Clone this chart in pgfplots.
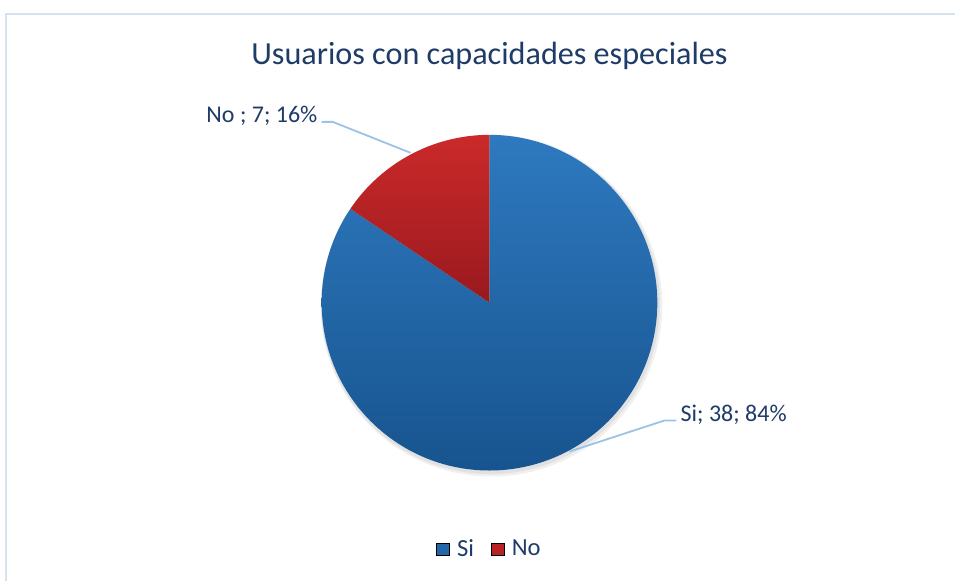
\documentclass[border=0pt]{standalone}
\usepackage{pgfplots}
\pgfplotsset{compat=1.18}
\usepackage{pgfplotstable}
\usepackage{fontspec}
\setmainfont{Carlito}
\definecolor{titleblue}{HTML}{1F3B68}
\definecolor{siTop}{HTML}{2E79BF}
\definecolor{siBot}{HTML}{17548F}
\definecolor{siMid}{HTML}{2366AA}
\definecolor{noTop}{HTML}{CB2A2A}
\definecolor{noBot}{HTML}{99191E}
\definecolor{noMid}{HTML}{B82224}
\definecolor{leader}{HTML}{9CC2E8}
\definecolor{framecol}{HTML}{D5E3F1}
\pgfplotstableread{
label value
Si 38
No 7
}\piedata
\pgfplotstablegetelem{0}{value}\of\piedata \let\vSi\pgfplotsretval
\pgfplotstablegetelem{1}{value}\of\piedata \let\vNo\pgfplotsretval
\pgfmathsetmacro\total{\vSi+\vNo}
\pgfmathsetmacro\angSi{360*\vSi/\total}
\pgfmathsetmacro\angNo{360*\vNo/\total}
\begin{document}
\begin{tikzpicture}
\begin{axis}[
  scale only axis, width=478pt, height=291pt,
  xmin=0, xmax=956, ymin=0, ymax=582,
  hide axis, clip=false,
  legend columns=2,
  legend image code/.code={\fill[#1] (0pt,-3.2pt) rectangle (6.4pt,3.2pt); \path (8pt,0pt);},
  legend style={at={(axis cs:491,32)}, anchor=center, draw=none, fill=none,
    font=\fontsize{12.3}{14}\selectfont\color{titleblue},
    /tikz/every even column/.append style={column sep=6.5pt},
    inner sep=0pt},
]
\path[fill=white] (axis cs:0,0) rectangle (axis cs:956,582);
\draw[framecol, line width=1pt] (axis cs:6,0) -- (axis cs:6,568) -- (axis cs:956,568);
\node[titleblue, font=\fontsize{16.1}{19}\selectfont, anchor=base] at (axis cs:490,517) {Usuarios con capacidades especiales};
% shadow
\fill[black, opacity=0.06] (axis cs:492,276) circle[radius=85.5pt];
\fill[black, opacity=0.06] (axis cs:491,277) circle[radius=84.8pt];
% slices
\shade[top color=siTop, bottom color=siBot] (axis cs:490,279) -- (axis cs:490,447) arc[start angle=90, delta angle=-\angSi, radius=84pt] -- cycle;
\shade[top color=noTop, bottom color=noBot] (axis cs:490,279) -- (axis cs:490,447) arc[start angle=90, delta angle=\angNo, radius=84pt] -- cycle;
% leader lines
\draw[leader, line width=0.9pt] (axis cs:322,460) -- (axis cs:333,460) -- (axis cs:411,429);
\draw[leader, line width=0.9pt] (axis cs:677,161) -- (axis cs:665,161) -- (axis cs:570,130);
\node[titleblue, font=\fontsize{12}{14}\selectfont, anchor=base east, inner sep=0pt] at (axis cs:318,459) {No ; 7; 16\%};
\node[titleblue, font=\fontsize{12}{14}\selectfont, anchor=base west, inner sep=0pt] at (axis cs:681,160.5) {Si; 38; 84\%};
\addlegendimage{fill=siMid}
\addlegendentry{Si}
\addlegendimage{fill=noMid}
\addlegendentry{No}
\end{axis}
\end{tikzpicture}
\end{document}
